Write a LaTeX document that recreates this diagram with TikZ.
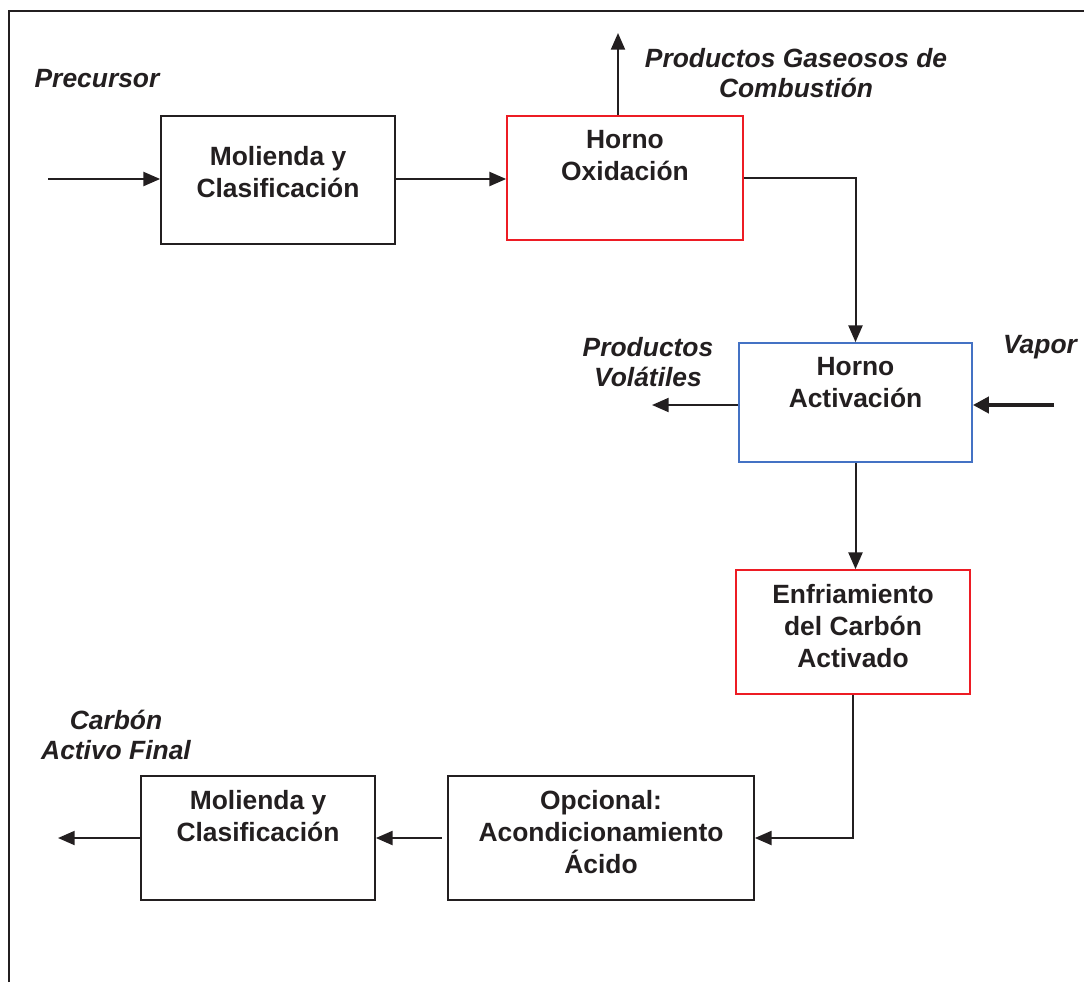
\documentclass[tikz,border=0pt]{standalone}
\usepackage{fontspec}
\setmainfont{Liberation Sans}
\usetikzlibrary{arrows.meta}
\definecolor{ink}{RGB}{35,31,32}
\definecolor{boxred}{RGB}{237,28,36}
\definecolor{boxblue}{RGB}{68,114,196}
\begin{document}
\begin{tikzpicture}[x=0.75pt,y=-0.75pt,
  txt/.style={font=\fontsize{19.8pt}{24pt}\selectfont\bfseries, text=ink, align=center, inner sep=0pt},
  itxt/.style={txt, font=\fontsize{19.8pt}{23pt}\selectfont\bfseries\itshape},
  blk/.style={draw=ink, line width=1.3pt, rectangle, inner sep=0pt},
  flow/.style={draw=ink, line width=1.5pt, -{Triangle[length=12.5pt,width=10.5pt]}},
  bigflow/.style={draw=ink, line width=3pt, -{Triangle[length=12pt,width=12pt]}}
]
\useasboundingbox (0,0) rectangle (1084,982);
% page frame (open at the bottom and right)
\draw[ink, line width=1.9pt] (9,982) -- (9,11) -- (1090,11);

% process blocks
\node[blk, minimum width=175.5pt, minimum height=96pt] (b1) at (278,180) {};
\node[blk, draw=boxred, minimum width=177pt, minimum height=93pt] (b2) at (625,178) {};
\node[blk, draw=boxblue, minimum width=174.75pt, minimum height=89.25pt] (b3) at (855.5,402.5) {};
\node[blk, draw=boxred, minimum width=175.5pt, minimum height=93pt] (b4) at (853,632) {};
\node[blk, minimum width=229.5pt, minimum height=93pt] (b5) at (601,838) {};
\node[blk, minimum width=175.5pt, minimum height=93pt] (b6) at (258,838) {};

% block texts
\node[txt, anchor=north] (t1) at ([yshift=-23pt]b1.north) {Molienda y\\Clasificación};
\node[txt, anchor=north] (t2) at ([yshift=-11pt]b2.north) {Horno\\Oxidación};
\node[txt, anchor=north] (t3) at ([yshift=-11pt]b3.north) {Horno\\Activación};
\node[txt, anchor=north] (t4) at ([yshift=-11pt]b4.north) {Enfriamiento\\del Carbón\\Activado};
\node[txt, anchor=north] (t5) at ([yshift=-11pt]b5.north) {Opcional:\\Acondicionamiento\\Ácido};
\node[txt, anchor=north] (t6) at ([yshift=-11pt]b6.north) {Molienda y\\Clasificación};

% stream labels
\node[itxt] (lprec) at (97,79) {Precursor};
\node[itxt] (lgas) at (796,73) {Productos Gaseosos de\\Combustión};
\node[itxt] (lvol) at (648,362) {Productos\\Volátiles};
\node[itxt] (lvap) at (1040,347) {Vapor};
\node[itxt] (lfin) at (116,735) {Carbón\\Activo Final};

% free ends of the streams
\coordinate (cin) at (48,179);
\coordinate (cgas) at (618,33);
\coordinate (cvap) at (1054,405);
\coordinate (cvol) at (652,405);
\coordinate (cout) at (58,838);

% connectors
\draw[flow] (cin) -- (cin -| b1.west);
\draw[flow] (cin -| b1.east) -- (cin -| b2.west);
\draw[flow] (cgas |- b2.north) -- (cgas);
\draw[flow] (b2.east) -| (b3.north);
\draw[bigflow] (cvap) -- (cvap -| b3.east);
\draw[flow] (cvol -| b3.west) -- (cvol);
\draw[flow] (b3.south) -- (b3.south |- b4.north);
\draw[flow] (b4.south) |- (b5.east);
\draw[flow] ([xshift=-4pt]b5.west) -- (b6.east);
\draw[flow] (b6.west) -- (cout);
\end{tikzpicture}
\end{document}
